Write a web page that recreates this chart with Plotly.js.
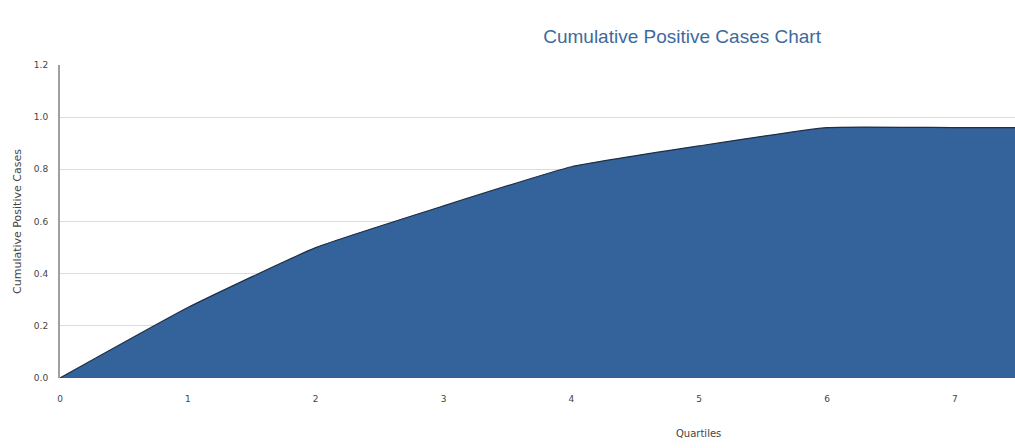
<!DOCTYPE html>
<html>
<head>
<meta charset="utf-8">
<script src="https://cdn.plot.ly/plotly-3.0.1.min.js"></script>
<style>html,body{margin:0;padding:0;background:#fff;}#chart{width:1015px;height:448px;}</style>
</head>
<body>
<div id="chart"></div>
<script>
const quartiles = [0, 1, 2, 3, 4, 5, 6, 7, 8];
const cumulativePositive = [0, 0.27, 0.50, 0.66, 0.81, 0.89, 0.96, 0.96, 0.96];
const yTickValues = [0, 0.2, 0.4, 0.6, 0.8, 1.0, 1.2];
const xTickValues = [0, 1, 2, 3, 4, 5, 6, 7];

const trace = {
  x: quartiles,
  y: cumulativePositive,
  type: 'scatter',
  mode: 'lines',
  fill: 'tozeroy',
  fillcolor: '#34629a',
  line: {color: '#1f2f45', width: 1.2, shape: 'spline', smoothing: 0.4},
  hoverinfo: 'x+y'
};

const tickFont = {family: 'DejaVu Sans, sans-serif', size: 9, color: '#444444'};

const layout = {
  width: 1015,
  height: 448,
  margin: {l: 60, r: 0, t: 65, b: 70},
  paper_bgcolor: '#ffffff',
  plot_bgcolor: '#ffffff',
  showlegend: false,
  title: {
    text: 'Cumulative Positive Cases Chart',
    xref: 'container', x: 0.672, xanchor: 'center',
    yref: 'container', y: 0.918, yanchor: 'middle',
    font: {family: 'Liberation Sans, Arial, sans-serif', size: 19, color: '#3d6a9e'}
  },
  xaxis: {
    range: [0, 7.47],
    tickvals: xTickValues,
    ticktext: xTickValues.map(String),
    showgrid: false,
    zeroline: false,
    showline: false,
    ticks: 'outside',
    ticklen: 12,
    tickcolor: 'rgba(0,0,0,0)',
    tickfont: tickFont
  },
  yaxis: {
    range: [0, 1.2],
    tickvals: yTickValues,
    tickformat: '.1f',
    showgrid: true,
    gridcolor: '#dcdcdc',
    gridwidth: 1,
    zeroline: false,
    showline: true,
    linecolor: '#a0a0a0',
    linewidth: 2,
    ticks: 'outside',
    ticklen: 8,
    tickcolor: 'rgba(0,0,0,0)',
    tickfont: tickFont,
    title: {text: 'Cumulative Positive Cases', font: {family: 'DejaVu Sans, sans-serif', size: 11, color: '#444444'}, standoff: 10}
  },
  annotations: [{
    text: 'Quartiles',
    xref: 'paper', yref: 'paper',
    x: (698 - 60) / 955, y: -(433 - 378) / 313,
    xanchor: 'center', yanchor: 'middle',
    showarrow: false,
    font: {family: 'DejaVu Sans, sans-serif', size: 10, color: '#444444'}
  }]
};

Plotly.newPlot('chart', [trace], layout, {displayModeBar: false, staticPlot: true});
</script>
</body>
</html>
